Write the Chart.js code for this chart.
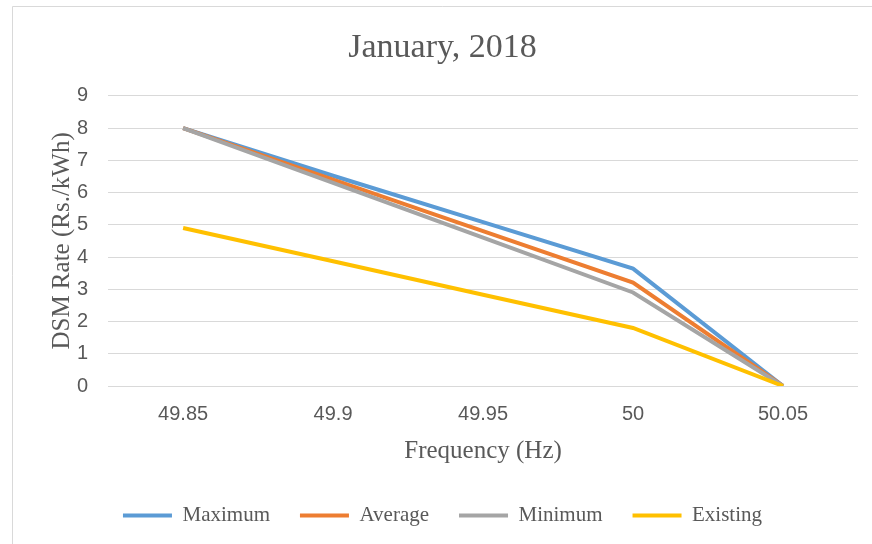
<!DOCTYPE html>
<html>
<head>
<meta charset="utf-8">
<title>January, 2018 – DSM Rate</title>
<script src="https://cdn.jsdelivr.net/npm/chart.js@4/dist/chart.umd.min.js"></script>
<style>
  html, body { margin: 0; padding: 0; background: #ffffff; }
  #wrap { width: 872px; height: 544px; }
</style>
</head>
<body>
<div id="wrap"><canvas id="dsm" width="872" height="544"></canvas></div>
<script>
// Frequency bands (Hz) and DSM rates (Rs./kWh) per series
const frequencies = ['49.85', '49.9', '49.95', '50', '50.05'];
const maximumRate = [8, 6.52, 5.08, 3.64, 0];
const averageRate = [8, 6.4, 4.8, 3.21, 0];
const minimumRate = [8, 6.3, 4.6, 2.9, 0];
const existingRate = [4.9, 3.87, 2.83, 1.8, 0];
const seriesNames = ['Maximum', 'Average', 'Minimum', 'Existing'];
const seriesColors = ['#5B9BD5', '#ED7D31', '#A5A5A5', '#FFC000'];
const rateTicks = [0, 1, 2, 3, 4, 5, 6, 7, 8, 9];

const textColor = '#595959';
const gridColor = '#d9d9d9';

// White background plus the thin frame around the chart
const frame = {
  id: 'frame',
  beforeDraw(chart) {
    const ctx = chart.ctx;
    ctx.save();
    ctx.fillStyle = '#ffffff';
    ctx.fillRect(0, 0, chart.width, chart.height);
    ctx.strokeStyle = gridColor;
    ctx.lineWidth = 1;
    ctx.beginPath();
    ctx.moveTo(12.5, chart.height);
    ctx.lineTo(12.5, 6.5);
    ctx.lineTo(chart.width, 6.5);
    ctx.stroke();
    ctx.restore();
  }
};

const seriesValues = [maximumRate, averageRate, minimumRate, existingRate];
const datasets = seriesNames.map((name, i) => ({
  label: name,
  data: seriesValues[i],
  borderColor: seriesColors[i],
  backgroundColor: seriesColors[i],
  borderWidth: 4,
  pointRadius: 0,
  pointHoverRadius: 0,
  tension: 0,
  fill: false,
  // later series are painted on top of earlier ones
  order: seriesNames.length - i
}));

new Chart(document.getElementById('dsm'), {
  type: 'line',
  data: { labels: frequencies, datasets },
  plugins: [frame],
  options: {
    responsive: false,
    devicePixelRatio: 1,
    animation: false,
    events: [],
    layout: { padding: { left: 27, right: 14, top: 6, bottom: 8 } },
    plugins: {
      title: {
        display: true,
        text: 'January, 2018',
        color: textColor,
        font: { family: '"Liberation Serif", serif', size: 34, weight: 'normal' },
        padding: { top: 22, bottom: 27 }
      },
      legend: {
        position: 'bottom',
        labels: {
          color: textColor,
          font: { family: '"Liberation Serif", serif', size: 21 },
          boxWidth: 49,
          boxHeight: 4,
          padding: 30,
          sort: (a, b) => a.datasetIndex - b.datasetIndex,
          generateLabels(chart) {
            const items = Chart.defaults.plugins.legend.labels.generateLabels(chart);
            items.forEach(it => { it.lineWidth = 0; });
            return items;
          }
        }
      },
      tooltip: { enabled: false }
    },
    scales: {
      x: {
        offset: true,
        grid: { display: false, drawTicks: false },
        border: { display: false },
        ticks: {
          color: textColor,
          font: { family: '"Liberation Sans", sans-serif', size: 20 },
          padding: 16,
          maxRotation: 0
        },
        title: {
          display: true,
          text: 'Frequency (Hz)',
          color: textColor,
          font: { family: '"Liberation Serif", serif', size: 25 },
          padding: { top: -6, bottom: 9 }
        }
      },
      y: {
        min: rateTicks[0],
        max: rateTicks[rateTicks.length - 1],
        afterBuildTicks(scale) {
          scale.ticks = rateTicks.map(v => ({ value: v }));
        },
        grid: { color: gridColor, lineWidth: 1, drawTicks: false },
        border: { display: false },
        ticks: {
          color: textColor,
          font: { family: '"Liberation Sans", sans-serif', size: 20 },
          padding: 20
        },
        title: {
          display: true,
          text: 'DSM Rate (Rs./kWh)',
          color: textColor,
          font: { family: '"Liberation Serif", serif', size: 25 },
          padding: { top: 20, bottom: -20 }
        }
      }
    }
  }
});
</script>
</body>
</html>
